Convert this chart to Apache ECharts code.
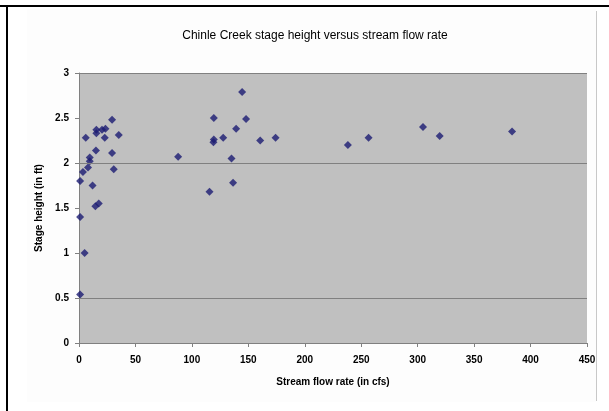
<!DOCTYPE html>
<html>
<head>
<meta charset="utf-8">
<script src="https://cdn.jsdelivr.net/npm/echarts@6/dist/echarts.min.js"></script>
<style>
html,body{margin:0;padding:0;background:#ffffff;}
#chart{width:609px;height:411px;}
</style>
</head>
<body>
<div id="chart"></div>
<script>
// Stream flow rate (cfs)
var flowRate = [1, 1, 5, 1, 3.5, 8, 9.5, 9.5, 6, 12, 14.5, 17.5, 15, 15.4, 15.4, 20.4, 23.4, 22.8, 29.3, 29.3, 30.8, 35.2, 87.8,
  144.5, 119.4, 148, 139.2, 127.7, 119.4, 119.1, 160.5, 174.1, 135.1, 136.5, 115.6,
  238.2, 256.5, 304.7, 319.5, 383.6];
// Stage height (ft)
var stageHeight = [0.54, 1.40, 1.00, 1.80, 1.90, 1.95, 2.02, 2.06, 2.28, 1.75, 1.52, 1.55, 2.14, 2.33, 2.37, 2.37, 2.38, 2.28, 2.48, 2.11, 1.93, 2.31, 2.07,
  2.79, 2.50, 2.49, 2.38, 2.28, 2.26, 2.23, 2.25, 2.28, 2.05, 1.78, 1.68,
  2.20, 2.28, 2.40, 2.30, 2.35];
var gridLevels = [0.5, 2];
var titleText = 'Chinle Creek stage height versus stream flow rate';
var xName = 'Stream flow rate (in cfs)';
var yName = 'Stage height (in ft)';

var points = flowRate.map(function (x, i) { return [x, stageHeight[i]]; });

var chart = echarts.init(document.getElementById('chart'), null, {renderer: 'canvas'});
var font = 'Liberation Sans, Arial, sans-serif';
chart.setOption({
  animation: false,
  backgroundColor: '#ffffff',
  graphic: [
    {type: 'rect', shape: {x: 27, y: 9, width: 569, height: 393}, style: {fill: '#fdfdfd'}, z: -10},
    {type: 'line', shape: {x1: 596.5, y1: 11, x2: 596.5, y2: 401}, style: {stroke: '#c8c8c8', lineWidth: 1}},
    {type: 'rect', shape: {x: 0, y: 5, width: 609, height: 2}, style: {fill: '#000000'}},
    {type: 'rect', shape: {x: 6, y: 5, width: 2, height: 406}, style: {fill: '#000000'}}
  ],
  title: {
    text: titleText,
    left: 310, top: 25, textAlign: 'center',
    textStyle: {fontFamily: font, fontSize: 12, fontWeight: 'normal', color: '#000'}
  },
  grid: {left: 79, top: 73, right: 22, bottom: 68, show: true, backgroundColor: '#c0c0c0', borderWidth: 0},
  xAxis: {
    type: 'value', min: 0, max: 450, interval: 50,
    name: xName, nameLocation: 'middle', nameGap: 34,
    nameTextStyle: {fontFamily: font, fontSize: 10, fontWeight: 'bold', color: '#000'},
    axisLine: {show: true, lineStyle: {color: '#808080', width: 1}},
    axisTick: {show: true, length: 4, lineStyle: {color: '#808080'}},
    axisLabel: {fontFamily: font, fontSize: 10, fontWeight: 'bold', color: '#000', margin: 12},
    splitLine: {show: false}
  },
  yAxis: {
    type: 'value', min: 0, max: 3, interval: 0.5,
    name: yName, nameLocation: 'middle', nameGap: 30,
    nameTextStyle: {fontFamily: font, fontSize: 10, fontWeight: 'bold', color: '#000'},
    axisLine: {show: true, lineStyle: {color: '#808080', width: 1}},
    axisTick: {show: true, length: 4, lineStyle: {color: '#808080'}},
    axisLabel: {fontFamily: font, fontSize: 10, fontWeight: 'bold', color: '#000', margin: 10},
    splitLine: {show: false}
  },
  series: [{
    type: 'scatter',
    data: points,
    symbol: 'diamond',
    symbolSize: 8,
    itemStyle: {color: '#1a1a72'},
    markLine: {
      silent: true, symbol: 'none', label: {show: false},
      lineStyle: {color: '#808080', width: 1, type: 'solid'},
      data: gridLevels.map(function (v) { return {yAxis: v}; }).concat([{yAxis: 3}])
    },
    z: 3
  }]
});
</script>
</body>
</html>
